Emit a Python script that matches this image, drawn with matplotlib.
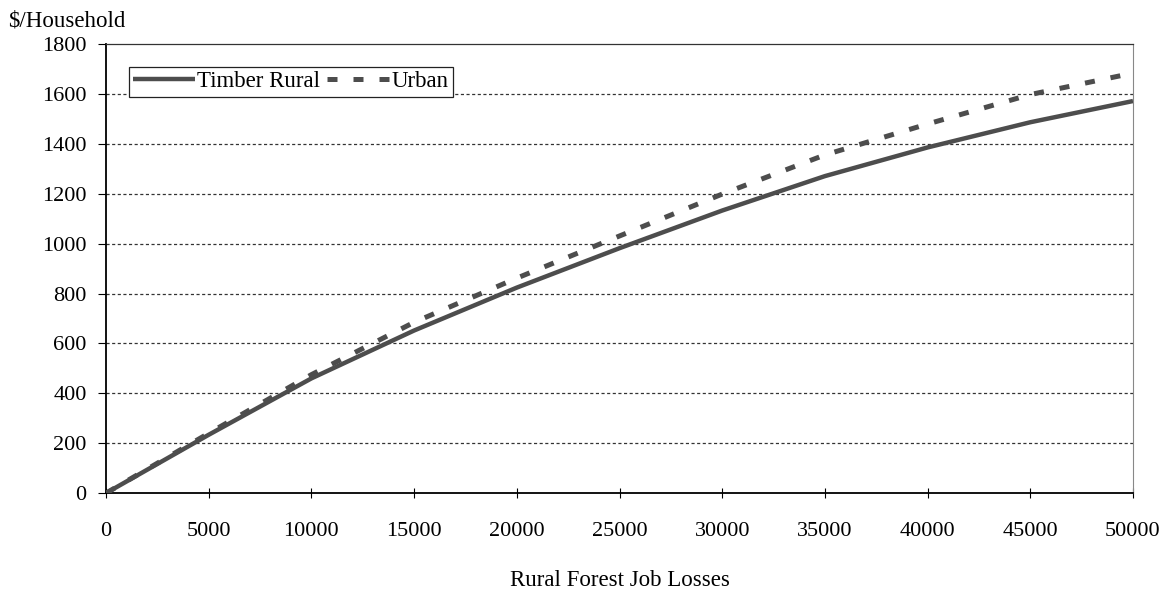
import matplotlib
matplotlib.use("Agg")
import matplotlib.pyplot as plt

# 数据
job_losses = [0, 5000, 10000, 15000, 20000, 25000, 30000, 35000, 40000, 45000, 50000]
timber_rural = [0, 234, 460, 652, 824, 982, 1133, 1271, 1386, 1487, 1572]
urban = [0, 240, 475, 685, 862, 1031, 1199, 1356, 1480, 1598, 1684]

x_ticks = [0, 5000, 10000, 15000, 20000, 25000, 30000, 35000, 40000, 45000, 50000]
y_ticks = [0, 200, 400, 600, 800, 1000, 1200, 1400, 1600, 1800]

plt.rcParams['font.family'] = ['Liberation Serif', 'DejaVu Serif']
line_color = '#4d4d4d'

fig = plt.figure(figsize=(11.69, 5.97), dpi=100)
ax = fig.add_axes([0.0907, 0.174, 0.8785, 0.752])

# 网格线
for y in y_ticks[1:-1]:
    ax.axhline(y, color='#333333', lw=0.9, ls=(0, (2.5, 2)), zorder=1)

ax.plot(job_losses, timber_rural, color=line_color, lw=3.2, label='Timber Rural',
        solid_capstyle='butt', zorder=3)
ax.plot(job_losses, urban, color=line_color, lw=3.6, ls=(0, (2.0, 3.2)),
        dash_capstyle='butt', label='Urban', zorder=3)

ax.set_xlim(0, 50000)
ax.set_ylim(0, 1800)
ax.set_xticks(x_ticks)
ax.set_yticks(y_ticks)
ax.tick_params(axis='x', direction='inout', length=7, width=0.8, pad=17, labelsize=16)
ax.tick_params(axis='y', direction='out', length=6, width=0.8, pad=8, labelsize=16)

ax.spines['left'].set_linewidth(1.3)
ax.spines['bottom'].set_linewidth(1.3)
ax.spines['top'].set_linewidth(0.9)
ax.spines['top'].set_color('#333333')
ax.spines['right'].set_linewidth(0.8)
ax.spines['right'].set_color('#888888')

ax.set_xlabel('Rural Forest Job Losses', fontsize=16.5, labelpad=21)
fig.text(0.007, 0.965, '$/Household', fontsize=16.5, ha='left', va='center')

leg = ax.legend(loc='upper left', bbox_to_anchor=(0.022, 0.95), ncol=2, fontsize=16.5,
                frameon=True, fancybox=False, edgecolor='#222222', framealpha=1,
                handlelength=2.7, handletextpad=0.1, columnspacing=0.3,
                borderpad=0.2, borderaxespad=0)
leg.get_frame().set_linewidth(0.9)

fig.savefig('out.png', dpi=100, facecolor='white')
